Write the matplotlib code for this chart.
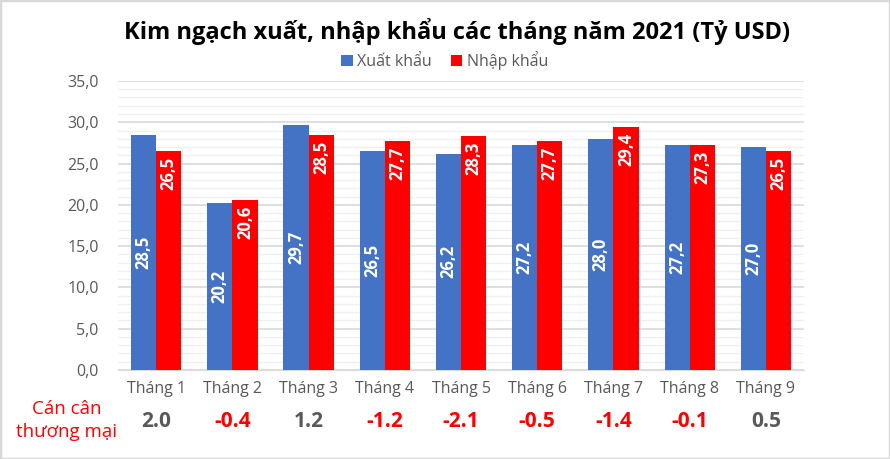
import numpy as np
import matplotlib
matplotlib.use("Agg")
from matplotlib import pyplot as plt
from matplotlib.patches import Rectangle

plt.rcParams["font.family"] = ["Open Sans", "DejaVu Sans"]

months = ["Tháng 1", "Tháng 2", "Tháng 3", "Tháng 4", "Tháng 5",
          "Tháng 6", "Tháng 7", "Tháng 8", "Tháng 9"]
exports = [28.5, 20.2, 29.7, 26.5, 26.2, 27.2, 28.0, 27.2, 27.0]
imports = [26.5, 20.6, 28.5, 27.7, 28.3, 27.7, 29.4, 27.3, 26.5]
balance = [2.0, -0.4, 1.2, -1.2, -2.1, -0.5, -1.4, -0.1, 0.5]

BLUE = "#4472C4"
RED = "#FF0000"
GREY = "#595959"

fig = plt.figure(figsize=(8.9, 4.59), dpi=100)
ax = fig.add_axes([0.1326, 0.194, 0.7708, 0.6296])

x = np.arange(len(months))
w = 0.33
b1 = ax.bar(x - w / 2, exports, w, color=BLUE, label="Xuất khẩu", zorder=3)
b2 = ax.bar(x + w / 2, imports, w, color=RED, label="Nhập khẩu", zorder=3)

fmt = lambda v: f"{v:.1f}".replace(".", ",")
for rect, v in zip(b1, exports):
	ax.text(rect.get_x() + rect.get_width() / 2, v / 2, fmt(v), rotation=90,
			ha="center", va="center", color="white", fontsize=12, fontweight="bold", zorder=4)
for rect, v in zip(b2, imports):
	ax.text(rect.get_x() + rect.get_width() / 2, v - 0.7, fmt(v), rotation=90,
			ha="center", va="top", color="white", fontsize=12, fontweight="bold", zorder=4)

ax.set_xlim(-0.5, len(months) - 0.5)
ax.set_ylim(0, 35)
ax.set_yticks(np.arange(0, 35.1, 5))
ax.set_yticklabels([fmt(v) for v in np.arange(0, 35.1, 5)])
ax.set_yticks(np.arange(0, 35.1, 1), minor=True)
ax.grid(axis="y", which="major", color="#d9d9d9", linewidth=1.2, zorder=0)
ax.grid(axis="y", which="minor", color="#f0f0f0", linewidth=1.0, zorder=0)
ax.set_xticks(x)
ax.set_xticklabels(months)
ax.tick_params(axis="both", which="both", length=0, labelsize=11.5, colors=GREY, pad=8)
ax.tick_params(axis="y", pad=14)
for side in ("top", "right", "left"):
	ax.spines[side].set_visible(False)
ax.spines["bottom"].set_color("#d9d9d9")

# trade balance row under the month labels
for xi, v in zip(x, balance):
	ax.annotate(f"{v:.1f}", xy=(xi, 0), xycoords="data", xytext=(0, -37),
				textcoords="offset points", ha="center", va="center",
				fontsize=15, fontweight="bold", color=RED if v < 0 else GREY,
				annotation_clip=False)
fig.text(0.075, 0.083, "Cán cân\nthương mại", ha="center", va="center",
		 color=RED, fontsize=13.5, linespacing=1.35)

fig.suptitle("Kim ngạch xuất, nhập khẩu các tháng năm 2021 (Tỷ USD)",
			 x=0.514, y=0.96, fontsize=17, fontweight="bold", color="black")
fig.legend(loc="center", bbox_to_anchor=(0.5, 0.868), ncol=2, frameon=False,
		   fontsize=11.5, handlelength=0.7, handleheight=0.7, handletextpad=0.3,
		   columnspacing=1.2, labelcolor=GREY)

fig.patches.append(Rectangle((0, 0), 1, 1, transform=fig.transFigure, fill=False,
							 edgecolor="#d9d9d9", linewidth=2.5))

fig.savefig("out.png", dpi=100)
